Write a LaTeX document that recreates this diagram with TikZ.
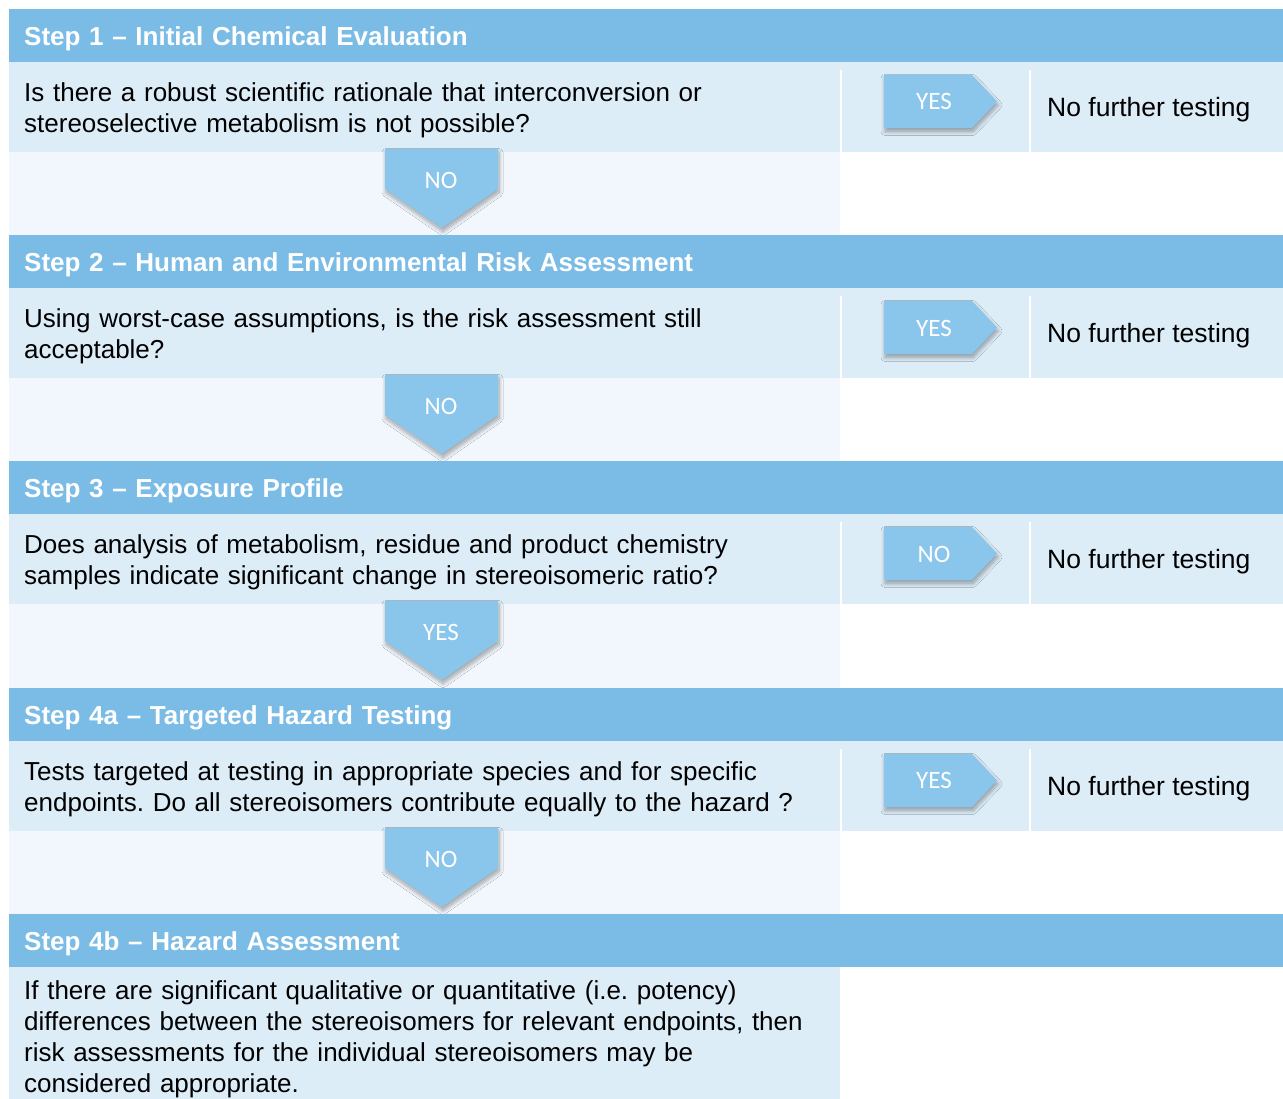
\documentclass[tikz,border=0pt]{standalone}
\usepackage{fontspec}
\setmainfont{Liberation Sans}
\newfontfamily\arrowfont{Carlito}
\usetikzlibrary{shadows.blur}
\definecolor{headblue}{HTML}{7BBCE6}
\definecolor{rowblue}{HTML}{DDEDF8}
\definecolor{gapblue}{HTML}{F1F7FD}
\definecolor{arrowblue}{HTML}{8AC6EC}
\frenchspacing

\begin{document}
\begin{tikzpicture}[x=1pt,y=-1pt]
        \tikzstyle{header}=[fill=headblue,text=white,anchor=north west,inner xsep=15pt,inner ysep=0pt,text width=1244pt,text height=25pt,text depth=6pt,minimum height=53pt,align=left,font=\fontsize{26}{31}\selectfont\bfseries]
        \tikzstyle{question}=[anchor=west,inner xsep=15pt,inner ysep=0pt,text width=801pt,align=left,font=\fontsize{26}{31}\selectfont]
        \tikzstyle{answer}=[anchor=west,inner xsep=16pt,font=\fontsize{26.5}{31}\selectfont]
        \tikzstyle{badge}=[fill=arrowblue,blur shadow={shadow xshift=1pt,shadow yshift=-3.5pt,shadow opacity=35,shadow blur steps=12,shadow blur radius=4pt}]
        \tikzstyle{badgetext}=[text=white,inner sep=0pt,font=\arrowfont\fontsize{25}{29}\selectfont]
        \tikzstyle{sep}=[white,line width=2pt]

        \useasboundingbox[fill=white] (0,0) rectangle (1283,1099);

        % Step 1
        \node (h1)[header] at (9,9) {Step 1 – Initial Chemical Evaluation};
        \fill[rowblue] (9,62) rectangle (1283,152);
        \fill[gapblue] (9,152) rectangle (840,235);
        \node (q1)[question] at (9,110) {Is there a robust scientific rationale that interconversion or\\stereoselective metabolism is not possible?};
        \draw[sep] (841,70) -- (841,152);
        \draw[sep] (1030,70) -- (1030,152);
        \path[badge] (884,75) -- (972,75) -- (997,101.5) -- (972,128) -- (884,128) -- cycle;
        \node (y1)[badgetext] at (934,101) {YES};
        \node (a1)[answer] at (1031,110) {No further testing};
        \path[badge] (385,149) -- (498,149) -- (498,189) -- (442,228) -- (385,189) -- cycle;
        \node (n1)[badgetext] at (441,180) {NO};

        % Step 2
        \node (h2)[header] at (9,235) {Step 2 – Human and Environmental Risk Assessment};
        \fill[rowblue] (9,288) rectangle (1283,378);
        \fill[gapblue] (9,378) rectangle (840,461);
        \node (q2)[question] at (9,336) {Using worst-case assumptions, is the risk assessment still\\acceptable?};
        \draw[sep] (841,296) -- (841,378);
        \draw[sep] (1030,296) -- (1030,378);
        \path[badge] (884,301) -- (972,301) -- (997,327.5) -- (972,354) -- (884,354) -- cycle;
        \node (y2)[badgetext] at (934,328) {YES};
        \node (a2)[answer] at (1031,336) {No further testing};
        \path[badge] (385,375) -- (498,375) -- (498,415) -- (442,454) -- (385,415) -- cycle;
        \node (n2)[badgetext] at (441,406) {NO};

        % Step 3
        \node (h3)[header] at (9,461) {Step 3 – Exposure Profile};
        \fill[rowblue] (9,514) rectangle (1283,604);
        \fill[gapblue] (9,604) rectangle (840,688);
        \node (q3)[question] at (9,562) {Does analysis of metabolism, residue and product chemistry\\samples indicate significant change in stereoisomeric ratio?};
        \draw[sep] (841,522) -- (841,604);
        \draw[sep] (1030,522) -- (1030,604);
        \path[badge] (884,527) -- (972,527) -- (997,553.5) -- (972,580) -- (884,580) -- cycle;
        \node (y3)[badgetext] at (934,554) {NO};
        \node (a3)[answer] at (1031,562) {No further testing};
        \path[badge] (385,601) -- (498,601) -- (498,641) -- (442,680) -- (385,641) -- cycle;
        \node (n3)[badgetext] at (441,632) {YES};

        % Step 4a
        \node (h4)[header] at (9,688) {Step 4a – Targeted Hazard Testing};
        \fill[rowblue] (9,741) rectangle (1283,831);
        \fill[gapblue] (9,831) rectangle (840,914);
        \node (q4)[question] at (9,789) {Tests targeted at testing in appropriate species and for specific\\endpoints. Do all stereoisomers contribute equally to the hazard ?};
        \draw[sep] (841,749) -- (841,831);
        \draw[sep] (1030,749) -- (1030,831);
        \path[badge] (884,754) -- (972,754) -- (997,780.5) -- (972,807) -- (884,807) -- cycle;
        \node (y4)[badgetext] at (934,780) {YES};
        \node (a4)[answer] at (1031,789) {No further testing};
        \path[badge] (385,828) -- (498,828) -- (498,868) -- (442,907) -- (385,868) -- cycle;
        \node (n4)[badgetext] at (441,859) {NO};

        % Step 4b
        \node (h5)[header] at (9,914) {Step 4b – Hazard Assessment};
        \fill[rowblue] (9,967) rectangle (840,1099);
        \node (q5)[anchor=north west,inner xsep=15pt,inner ysep=0pt,text width=801pt,align=left,font=\fontsize{26}{31}\selectfont] at (9,980) {If there are significant qualitative or quantitative (i.e. potency)\\differences between the stereoisomers for relevant endpoints, then\\risk assessments for the individual stereoisomers may be\\considered appropriate.};
    \end{tikzpicture}
\end{document}
